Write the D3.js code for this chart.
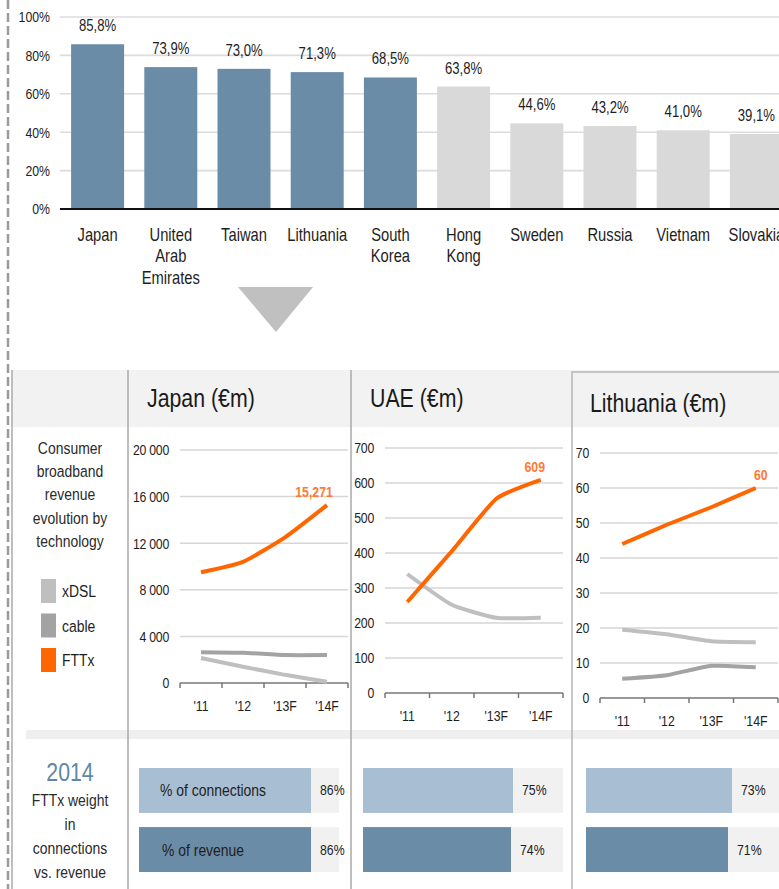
<!DOCTYPE html>
<html><head><meta charset="utf-8">
<script src="https://cdn.jsdelivr.net/npm/d3@7"></script>
<style>
html,body{margin:0;padding:0;background:#fff;}
svg{display:block;font-family:"Liberation Sans Narrow","Liberation Sans",Arial,sans-serif;}
</style></head>
<body>
<svg id="c" width="779" height="889"></svg>
<script>
// ---------- data ----------
const countries = ["Japan","United Arab Emirates","Taiwan","Lithuania","South Korea","Hong Kong","Sweden","Russia","Vietnam","Slovakia"];
const countryLabelLines = [["Japan"],["United","Arab","Emirates"],["Taiwan"],["Lithuania"],["South","Korea"],["Hong","Kong"],["Sweden"],["Russia"],["Vietnam"],["Slovakia"]];
const fttxShare = [85.8,73.9,73.0,71.3,68.5,63.8,44.6,43.2,41.0,39.1];
const highlightedCount = 5;
const shareTicks = [0,20,40,60,80,100];

const years = ["'11","'12","'13F","'14F"];
const techNames = ["xDSL","cable","FTTx"];

const japanXdsl = [2150,1400,700,100];
const japanCable = [2650,2600,2400,2400];
const japanFttx = [9500,10400,12500,15271];
const japanTicks = [0,4000,8000,12000,16000,20000];

const uaeXdsl = [340,252,215,215];
const uaeFttx = [260,405,555,609];
const uaeTicks = [0,100,200,300,400,500,600,700];

const lithXdsl = [19.5,18.2,16.2,15.9];
const lithCable = [5.5,6.5,9.2,8.8];
const lithFttx = [44,49.5,54.5,60];
const lithTicks = [0,10,20,30,40,50,60,70];

const panelTitles = ["Japan (€m)","UAE (€m)","Lithuania (€m)"];
const connShare = [86,75,73];
const revShare = [86,74,71];
const barRowNames = ["% of connections","% of revenue"];

// ---------- style ----------
const BLUE = "#6a8ca7", LIGHTBLUE = "#a8bed2", GREYBAR = "#d9d9d9";
const ORANGE = "#ff6600", ORANGE_TXT = "#ff7a33";
const techColor = {xDSL:"#bfbfbf", cable:"#a3a3a3", FTTx:ORANGE};
const TXT = "#1e1e1e";
const NARROW = 0.82;

const svg = d3.select("#c");

// condense text horizontally (Arial Narrow look)
function narrow(sel){
  sel.each(function(){
    const t = d3.select(this);
    const tx = +t.attr("x") || 0, ty = +t.attr("y") || 0;
    t.attr("x",0).attr("y",0).attr("transform",`translate(${tx},${ty}) scale(${NARROW},1)`);
    t.selectAll("tspan").attr("x",0);
  });
}

// ---------- frame ----------
svg.append("line").attr("x1",8).attr("x2",8).attr("y1",0).attr("y2",889)
  .attr("stroke","#9a9a9a").attr("stroke-width",2.5).attr("stroke-dasharray","9,4");

// ---------- top bar chart ----------
const x = d3.scaleBand().domain(countries).range([61,793]).paddingInner(0.276).paddingOuter(0.138);
const y = d3.scaleLinear().domain([0,100]).range([209,17]);

svg.append("g").selectAll("line").data(shareTicks.filter(d=>d>0)).join("line")
  .attr("x1",60).attr("x2",779).attr("y1",d=>y(d)).attr("y2",d=>y(d))
  .attr("stroke","#dcdcdc").attr("stroke-width",1.6);

const yAx = svg.append("g").attr("transform","translate(60,0)")
  .call(d3.axisLeft(y).tickValues(shareTicks).tickSize(0).tickPadding(10).tickFormat(d=>d+"%"));
yAx.select(".domain").remove();
yAx.selectAll("text").attr("font-size",15).attr("fill",TXT).attr("font-family",null).call(narrow);

svg.append("g").selectAll("rect").data(countries).join("rect")
  .attr("x",d=>x(d)).attr("width",x.bandwidth())
  .attr("y",(d,i)=>y(fttxShare[i])).attr("height",(d,i)=>y(0)-y(fttxShare[i]))
  .attr("fill",(d,i)=>i<highlightedCount?BLUE:GREYBAR);

svg.append("g").selectAll("text").data(countries).join("text")
  .attr("x",d=>x(d)+x.bandwidth()/2).attr("y",(d,i)=>y(fttxShare[i])-13)
  .attr("text-anchor","middle").attr("font-size",16).attr("fill",TXT)
  .text((d,i)=>d3.format(".1f")(fttxShare[i]).replace(".",",")+"%").call(narrow);

svg.append("line").attr("x1",60).attr("x2",779).attr("y1",y(0)).attr("y2",y(0))
  .attr("stroke","#111").attr("stroke-width",1.8);

const catG = svg.append("g").selectAll("text").data(countries).join("text")
  .attr("x",d=>x(d)+x.bandwidth()/2).attr("y",241)
  .attr("text-anchor","middle").attr("font-size",18).attr("fill",TXT);
catG.selectAll("tspan").data((d,i)=>countryLabelLines[i]).join("tspan")
  .attr("dy",(d,i)=>i?21.5:0).text(d=>d);
catG.call(narrow);

// arrow
svg.append("path").attr("d",d3.line()([[238,287],[313,287],[276,332]])+"Z").attr("fill","#c0c0c0");

// ---------- lower section frame ----------
svg.append("rect").attr("x",12).attr("y",370).attr("width",767).attr("height",57).attr("fill","#f2f2f2");
svg.append("rect").attr("x",26).attr("y",730).attr("width",753).attr("height",9).attr("fill","#efefef");
svg.append("line").attr("x1",12).attr("x2",12).attr("y1",370).attr("y2",889).attr("stroke","#aaa").attr("stroke-width",1.5);
[128,351].forEach(vx=>{
  svg.append("line").attr("x1",vx).attr("x2",vx).attr("y1",370).attr("y2",889).attr("stroke","#a8a8a8").attr("stroke-width",1.5);
});
svg.append("path").attr("d","M572,889V372H779").attr("fill","none").attr("stroke","#b5b5b5").attr("stroke-width",1.5);

// left panel text
const leftTxt = ["Consumer","broadband","revenue","evolution by","technology"];
svg.append("g").selectAll("text").data(leftTxt).join("text")
  .attr("x",70).attr("y",(d,i)=>454+i*23.2).attr("text-anchor","middle")
  .attr("font-size",17).attr("fill","#2a2a2a").text(d=>d).call(narrow);

const legY = d3.scalePoint().domain(techNames).range([591,660]);
const leg = svg.append("g").selectAll("g").data(techNames).join("g");
leg.append("rect").attr("x",41).attr("y",d=>legY(d)-12).attr("width",15).attr("height",24).attr("fill",d=>techColor[d]);
leg.append("text").attr("x",62).attr("y",d=>legY(d)+6).attr("font-size",17).attr("fill",TXT).text(d=>d).call(narrow);

// ---------- line panels ----------
const panels = [
  {title:panelTitles[0], titleX:147, titleY:407, x0:180, x1:348, y0:683, y1:450, ticks:japanTicks,
   series:[["cable",japanCable],["xDSL",japanXdsl],["FTTx",japanFttx]], lblDx:-13, lblFmt:d3.format(",")},
  {title:panelTitles[1], titleX:370, titleY:407, x0:385, x1:563, y0:693, y1:448, ticks:uaeTicks,
   series:[["xDSL",uaeXdsl],["FTTx",uaeFttx]], lblDx:-6, lblFmt:d3.format("d")},
  {title:panelTitles[2], titleX:590, titleY:412, x0:600, x1:778, y0:698, y1:453, ticks:lithTicks,
   series:[["xDSL",lithXdsl],["cable",lithCable],["FTTx",lithFttx]], lblDx:5, lblFmt:d3.format("d")}
];

panels.forEach(p=>{
  svg.append("text").attr("x",p.titleX).attr("y",p.titleY).attr("font-size",26).attr("fill","#1a1a1a").text(p.title).call(narrow);
  const px = d3.scaleBand().domain(years).range([p.x0,p.x1]);
  const py = d3.scaleLinear().domain([0,d3.max(p.ticks)]).range([p.y0,p.y1]);
  const g = svg.append("g");
  g.selectAll("line.grid").data(p.ticks.filter(d=>d>0)).join("line").attr("class","grid")
    .attr("x1",p.x0).attr("x2",p.x1).attr("y1",d=>py(d)).attr("y2",d=>py(d))
    .attr("stroke","#d6d6d6").attr("stroke-width",1.5);
  const ax = g.append("g").attr("transform",`translate(${p.x0},0)`)
    .call(d3.axisLeft(py).tickValues(p.ticks).tickSize(0).tickPadding(11)
      .tickFormat(d=>d3.format(",")(d).replace(/,/g," ")));
  ax.select(".domain").remove();
  ax.selectAll("text").attr("font-size",15).attr("fill",TXT).attr("font-family",null).attr("letter-spacing",-0.3).call(narrow);
  // x axis
  g.append("line").attr("x1",p.x0).attr("x2",p.x1).attr("y1",p.y0).attr("y2",p.y0).attr("stroke","#777").attr("stroke-width",1.5);
  const bounds = years.map(d=>px(d)).concat([p.x1]);
  g.selectAll("line.tk").data(bounds).join("line").attr("class","tk")
    .attr("x1",d=>d).attr("x2",d=>d).attr("y1",p.y0).attr("y2",p.y0+5).attr("stroke","#777").attr("stroke-width",1.5);
  g.selectAll("text.xl").data(years).join("text").attr("class","xl")
    .attr("x",d=>px(d)+px.bandwidth()/2).attr("y",p.y0+28).attr("text-anchor","middle")
    .attr("font-size",15).attr("fill",TXT).text(d=>d).call(narrow);
  const line = d3.line().x((d,i)=>px(years[i])+px.bandwidth()/2).y(d=>py(d)).curve(d3.curveCardinal.tension(0.5));
  p.series.forEach(([name,vals])=>{
    g.append("path").attr("d",line(vals)).attr("fill","none").attr("stroke",techColor[name])
      .attr("stroke-width",4).attr("stroke-linejoin","round");
  });
  const f = p.series.find(s=>s[0]==="FTTx")[1];
  const last = f[f.length-1];
  g.append("text").attr("x",px(years[3])+px.bandwidth()/2+p.lblDx).attr("y",py(last)-8)
    .attr("text-anchor","middle").attr("font-size",15).attr("font-weight","bold").attr("fill",ORANGE_TXT)
    .text(p.lblFmt(last)).call(narrow);
});

// ---------- bottom section ----------
svg.append("text").attr("x",70).attr("y",781).attr("text-anchor","middle").attr("font-size",26)
  .attr("fill","#5f87a8").text("2014").call(narrow);
const bottomTxt = ["FTTx weight","in","connections","vs. revenue"];
svg.append("g").selectAll("text").data(bottomTxt).join("text")
  .attr("x",70).attr("y",(d,i)=>806+i*24).attr("text-anchor","middle")
  .attr("font-size",17).attr("fill","#2a2a2a").text(d=>d).call(narrow);

const barStarts = [139,363,586];
const rowY = d3.scaleBand().domain(barRowNames).range([768,872]).paddingInner(0.24);
barStarts.forEach((bx,k)=>{
  const bxs = d3.scaleLinear().domain([0,100]).range([bx,bx+200]);
  const vals = [connShare[k],revShare[k]];
  const g = svg.append("g");
  g.selectAll("rect.bg").data(barRowNames).join("rect").attr("class","bg")
    .attr("x",bxs(0)).attr("width",bxs(100)-bxs(0)).attr("y",d=>rowY(d)).attr("height",rowY.bandwidth())
    .attr("fill","#f1f1f1");
  g.selectAll("rect.v").data(barRowNames).join("rect").attr("class","v")
    .attr("x",bxs(0)).attr("width",(d,i)=>bxs(vals[i])-bxs(0)).attr("y",d=>rowY(d)).attr("height",rowY.bandwidth())
    .attr("fill",(d,i)=>i?BLUE:LIGHTBLUE);
  g.selectAll("text.v").data(barRowNames).join("text").attr("class","v")
    .attr("x",(d,i)=>bxs(vals[i])+9).attr("y",d=>rowY(d)+rowY.bandwidth()/2+5)
    .attr("font-size",15).attr("fill",TXT).text((d,i)=>vals[i]+"%").call(narrow);
  if(k===0){
    g.selectAll("text.n").data(barRowNames).join("text").attr("class","n")
      .attr("x",(d,i)=>i?162:160).attr("y",d=>rowY(d)+rowY.bandwidth()/2+6)
      .attr("font-size",17).attr("fill",TXT).text(d=>d).call(narrow);
  }
});
</script>
</body></html>
